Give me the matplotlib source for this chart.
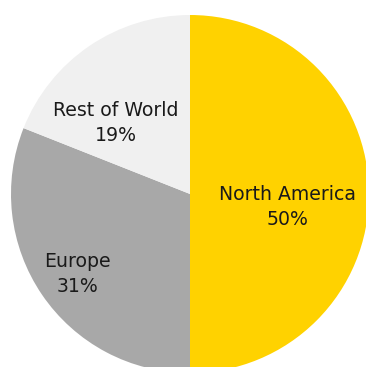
import matplotlib
matplotlib.use('Agg')
import matplotlib.pyplot as plt

# revenue split by region
regions = ['North America', 'Europe', 'Rest of World']
shares = [50, 31, 19]
colors = ['#FFD200', '#A8A8A8', '#F0F0F0']

# where each label sits inside its wedge (pie radius = 1)
label_xy = [(0.542, -0.073), (-0.631, -0.447), (-0.413, 0.397)]

plt.rcParams['font.family'] = 'DejaVu Sans'

fig = plt.figure(figsize=(3.66, 3.67), dpi=100)
ax = fig.add_axes([0, 0, 1, 1])

ax.pie(shares, colors=colors, startangle=90, counterclock=False,
       radius=1, wedgeprops={'linewidth': 0})

for name, val, (x, y) in zip(regions, shares, label_xy):
    ax.text(x, y, f'{name}\n{val}%', ha='center', va='center',
            fontsize=13.6, color='#1a1a1a', linespacing=1.45)

# pie centre sits at pixel (190, 194) with a 179 px radius, slightly cropped
ax.set_aspect('auto')
ax.set_xlim(-190 / 179, 176 / 179)
ax.set_ylim((194 - 367) / 179, 194 / 179)
ax.axis('off')

fig.savefig('out.png', dpi=100, facecolor='white')
